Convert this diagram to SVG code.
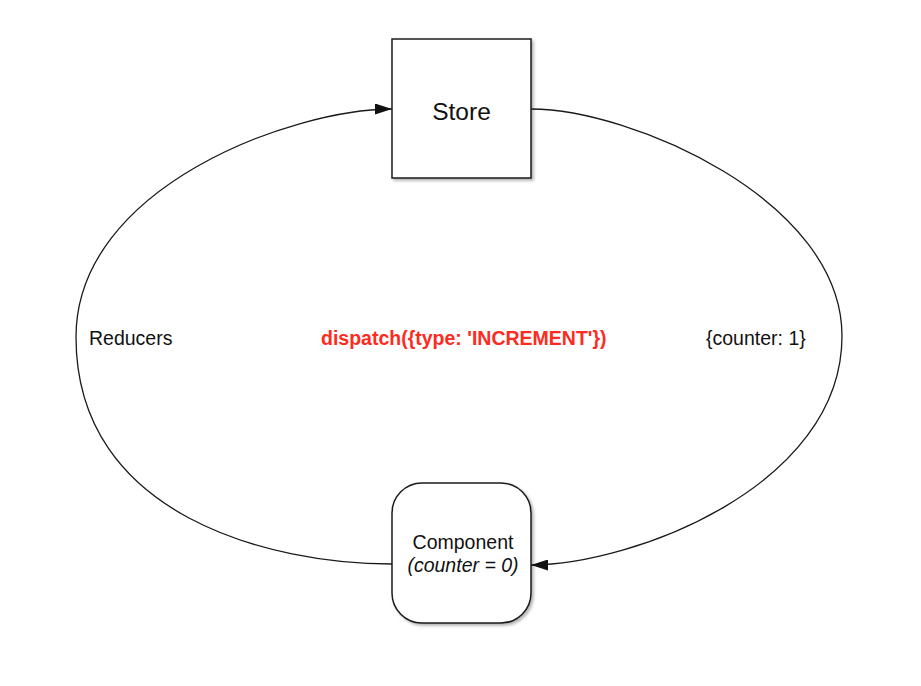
<svg xmlns="http://www.w3.org/2000/svg" width="921" height="686" viewBox="0 0 921 686">
  <style>
    .box { fill: #ffffff; stroke: #1a1a1a; stroke-width: 1.5; filter: url(#shadow); }
    .conn { fill: none; stroke: #1a1a1a; stroke-width: 1.3; marker-end: url(#arrow); }
    .lbl { font-family: "Liberation Sans", Arial, Helvetica, sans-serif; font-size: 19.5px; fill: #111111; }
    .red { fill: #FF2B1E; font-weight: bold; }
  </style>
  <defs>
    <filter id="shadow" x="-10%" y="-10%" width="125%" height="125%">
      <feDropShadow dx="2" dy="2" stdDeviation="1.5" flood-color="#000000" flood-opacity="0.3"/>
    </filter>
    <marker id="arrow" markerUnits="userSpaceOnUse" markerWidth="17" markerHeight="11" refX="17" refY="5.5" orient="auto" viewBox="0 0 17 11">
      <path d="M0,0 L17,5.5 L0,11 z" fill="#111111"/>
    </marker>
  </defs>
  <rect width="921" height="686" fill="#ffffff"/>

  <g id="connectors">
    <path class="conn" d="M392,564 C272,564 76,517 76,337 C76,187 292,109 392,109"/>
    <path class="conn" d="M531,109 C631,109 842,200 842,336 C842,487 631,565 531,565"/>
  </g>

  <g id="store">
    <rect class="box" x="392" y="39" width="139" height="139"/>
    <text class="lbl" x="461.5" y="120" text-anchor="middle" style="font-size:24.5px">Store</text>
  </g>

  <g id="component">
    <rect class="box" x="392" y="483" width="139" height="140" rx="30" ry="30"/>
    <text class="lbl" x="463" y="549" text-anchor="middle">Component</text>
    <text class="lbl" x="463" y="572" text-anchor="middle" font-style="italic">(counter = 0)</text>
  </g>

  <g id="reducers-label">
    <text class="lbl" x="89" y="345">Reducers</text>
  </g>
  <g id="dispatch-label">
    <text class="lbl red" x="321" y="345">dispatch({type: 'INCREMENT'})</text>
  </g>
  <g id="state-label">
    <text class="lbl" x="706" y="345">{counter: 1}</text>
  </g>
</svg>
